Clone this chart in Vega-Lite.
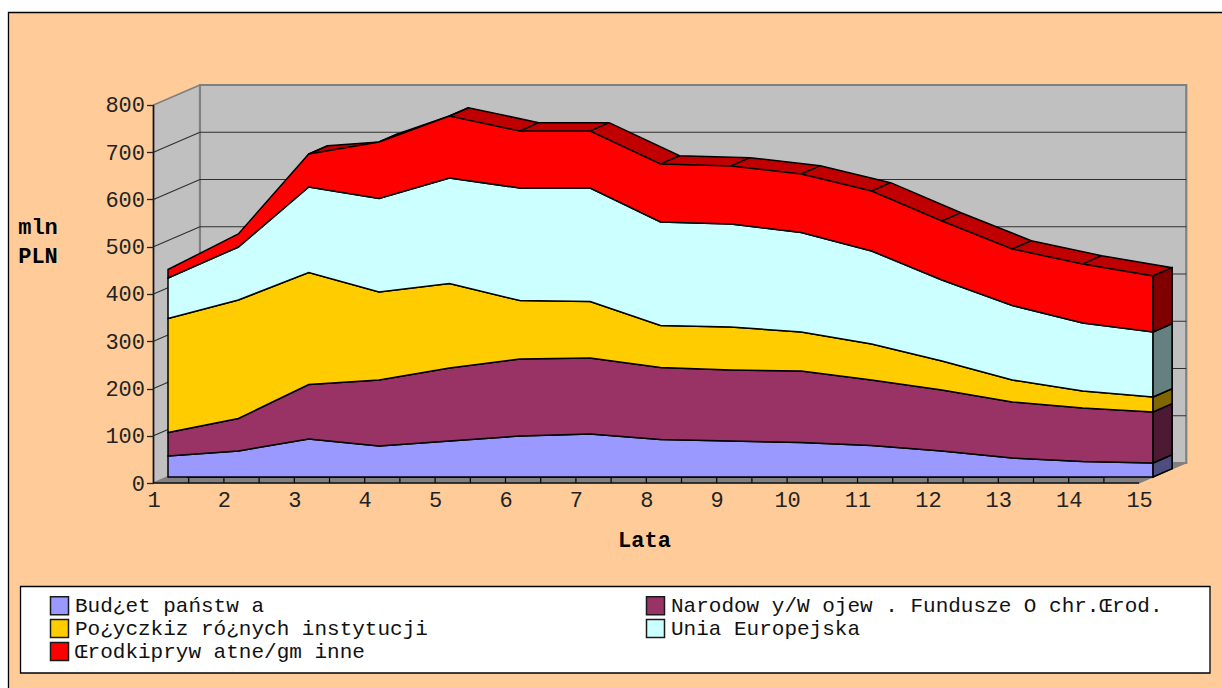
{"$schema":"https://vega.github.io/schema/vega-lite/v6.json","width":1222,"height":688,"autosize":"none","padding":0,"background":"white","config":{"view":{"stroke":null},"legend":{"labelFont":"Liberation Mono","labelFontSize":21}},"datasets":{"frame":[{"x":-1.06,"x2":18,"y":995.8,"y2":-480}],"legendbox":[{"x":-0.889,"x2":16.007,"y":-219,"y2":-402.1}],"backwall":[{"x":1.66,"x2":15.67,"y":842.3,"y2":42.3}],"leftwall":[{"x":1,"y":800,"y2":0},{"x":1.66,"y":842.3,"y2":42.3}],"floor":[{"x":1,"y":0,"y2":0},{"x":1.66,"y":42.3,"y2":0},{"x":15,"y":42.3,"y2":0},{"x":15.67,"y":42.3,"y2":42.3}],"grid":[{"x":1.66,"x2":15.67,"y":142.3,"y2":142.3},{"x":1.66,"x2":15.67,"y":242.3,"y2":242.3},{"x":1.66,"x2":15.67,"y":342.3,"y2":342.3},{"x":1.66,"x2":15.67,"y":442.3,"y2":442.3},{"x":1.66,"x2":15.67,"y":542.3,"y2":542.3},{"x":1.66,"x2":15.67,"y":642.3,"y2":642.3},{"x":1.66,"x2":15.67,"y":742.3,"y2":742.3},{"x":1,"x2":1.66,"y":100,"y2":142.3},{"x":1,"x2":1.66,"y":200,"y2":242.3},{"x":1,"x2":1.66,"y":300,"y2":342.3},{"x":1,"x2":1.66,"y":400,"y2":442.3},{"x":1,"x2":1.66,"y":500,"y2":542.3},{"x":1,"x2":1.66,"y":600,"y2":642.3},{"x":1,"x2":1.66,"y":700,"y2":742.3}],"axislines":[{"x":1,"x2":15,"y":0,"y2":0},{"x":1,"x2":1,"y":0,"y2":800}],"ticks":[{"x":2,"y":0,"y2":14.8},{"x":3,"y":0,"y2":14.8},{"x":4,"y":0,"y2":14.8},{"x":5,"y":0,"y2":14.8},{"x":6,"y":0,"y2":14.8},{"x":7,"y":0,"y2":14.8},{"x":8,"y":0,"y2":14.8},{"x":9,"y":0,"y2":14.8},{"x":10,"y":0,"y2":14.8},{"x":11,"y":0,"y2":14.8},{"x":12,"y":0,"y2":14.8},{"x":13,"y":0,"y2":14.8},{"x":14,"y":0,"y2":14.8},{"x":1.5,"y":0,"y2":10.6},{"x":2.5,"y":0,"y2":10.6},{"x":3.5,"y":0,"y2":10.6},{"x":4.5,"y":0,"y2":10.6},{"x":5.5,"y":0,"y2":10.6},{"x":6.5,"y":0,"y2":10.6},{"x":7.5,"y":0,"y2":10.6},{"x":8.5,"y":0,"y2":10.6},{"x":9.5,"y":0,"y2":10.6},{"x":10.5,"y":0,"y2":10.6},{"x":11.5,"y":0,"y2":10.6},{"x":12.5,"y":0,"y2":10.6},{"x":13.5,"y":0,"y2":10.6},{"x":14.5,"y":0,"y2":10.6}],"ridge":[{"x":1.27,"y":456.8,"y2":0},{"x":2.27,"y":531.9,"y2":0},{"x":3,"y":683.6,"y2":0},{"x":3.27,"y":701.2,"y2":0},{"x":4,"y":709,"y2":0},{"x":4.27,"y":726.6,"y2":0},{"x":5,"y":764,"y2":0},{"x":5.27,"y":781.6,"y2":0},{"x":6.27,"y":749.9,"y2":0},{"x":7.27,"y":749.9,"y2":0},{"x":8.27,"y":680,"y2":0},{"x":9.27,"y":675.8,"y2":0},{"x":10.27,"y":658.9,"y2":0},{"x":11.27,"y":622.9,"y2":0},{"x":12.27,"y":559.4,"y2":0},{"x":13.27,"y":500.1,"y2":0},{"x":14.27,"y":468.4,"y2":0},{"x":15.27,"y":443,"y2":17.6}],"ridgeLinks":[{"x":3,"x2":3.27,"y":683.6,"y2":701.2},{"x":4,"x2":4.27,"y":709,"y2":726.6},{"x":5,"x2":5.27,"y":764,"y2":781.6},{"x":6,"x2":6.27,"y":732.3,"y2":749.9},{"x":7,"x2":7.27,"y":732.3,"y2":749.9},{"x":8,"x2":8.27,"y":662.4,"y2":680},{"x":9,"x2":9.27,"y":658.2,"y2":675.8},{"x":10,"x2":10.27,"y":641.3,"y2":658.9},{"x":11,"x2":11.27,"y":605.3,"y2":622.9},{"x":12,"x2":12.27,"y":541.8,"y2":559.4},{"x":13,"x2":13.27,"y":482.5,"y2":500.1},{"x":14,"x2":14.27,"y":450.8,"y2":468.4},{"x":15,"x2":15.27,"y":425.4,"y2":443}],"endface":[{"s":"a","x":15,"y":29.6,"y2":0},{"s":"a","x":15.27,"y":47.2,"y2":17.6},{"s":"b","x":15,"y":137.6,"y2":29.6},{"s":"b","x":15.27,"y":155.2,"y2":47.2},{"s":"c","x":15,"y":169.3,"y2":137.6},{"s":"c","x":15.27,"y":186.9,"y2":155.2},{"s":"d","x":15,"y":306.9,"y2":169.3},{"s":"d","x":15.27,"y":324.5,"y2":186.9},{"s":"e","x":15,"y":425.4,"y2":306.9},{"s":"e","x":15.27,"y":443,"y2":324.5}],"flows":[{"x":1,"k":1,"s":"Bud¿et państw a","y":44.4},{"x":2,"k":1,"s":"Bud¿et państw a","y":55},{"x":3,"k":1,"s":"Bud¿et państw a","y":80.4},{"x":4,"k":1,"s":"Bud¿et państw a","y":65.6},{"x":5,"k":1,"s":"Bud¿et państw a","y":76.2},{"x":6,"k":1,"s":"Bud¿et państw a","y":86.8},{"x":7,"k":1,"s":"Bud¿et państw a","y":91},{"x":8,"k":1,"s":"Bud¿et państw a","y":79.4},{"x":9,"k":1,"s":"Bud¿et państw a","y":76.2},{"x":10,"k":1,"s":"Bud¿et państw a","y":73},{"x":11,"k":1,"s":"Bud¿et państw a","y":66.7},{"x":12,"k":1,"s":"Bud¿et państw a","y":55},{"x":13,"k":1,"s":"Bud¿et państw a","y":40.2},{"x":14,"k":1,"s":"Bud¿et państw a","y":32.8},{"x":15,"k":1,"s":"Bud¿et państw a","y":29.6},{"x":1,"k":2,"s":"Narodow y/W ojew . Fundusze O chr.Œrod.","y":49.8},{"x":2,"k":2,"s":"Narodow y/W ojew . Fundusze O chr.Œrod.","y":68.8},{"x":3,"k":2,"s":"Narodow y/W ojew . Fundusze O chr.Œrod.","y":115.4},{"x":4,"k":2,"s":"Narodow y/W ojew . Fundusze O chr.Œrod.","y":139.7},{"x":5,"k":2,"s":"Narodow y/W ojew . Fundusze O chr.Œrod.","y":154.5},{"x":6,"k":2,"s":"Narodow y/W ojew . Fundusze O chr.Œrod.","y":162.9},{"x":7,"k":2,"s":"Narodow y/W ojew . Fundusze O chr.Œrod.","y":160.9},{"x":8,"k":2,"s":"Narodow y/W ojew . Fundusze O chr.Œrod.","y":152.3},{"x":9,"k":2,"s":"Narodow y/W ojew . Fundusze O chr.Œrod.","y":150.3},{"x":10,"k":2,"s":"Narodow y/W ojew . Fundusze O chr.Œrod.","y":151.3},{"x":11,"k":2,"s":"Narodow y/W ojew . Fundusze O chr.Œrod.","y":138.6},{"x":12,"k":2,"s":"Narodow y/W ojew . Fundusze O chr.Œrod.","y":129.1},{"x":13,"k":2,"s":"Narodow y/W ojew . Fundusze O chr.Œrod.","y":118.5},{"x":14,"k":2,"s":"Narodow y/W ojew . Fundusze O chr.Œrod.","y":113.2},{"x":15,"k":2,"s":"Narodow y/W ojew . Fundusze O chr.Œrod.","y":108},{"x":1,"k":3,"s":"Po¿yczkiz ró¿nych instytucji","y":241.2},{"x":2,"k":3,"s":"Po¿yczkiz ró¿nych instytucji","y":250.8},{"x":3,"k":3,"s":"Po¿yczkiz ró¿nych instytucji","y":237},{"x":4,"k":3,"s":"Po¿yczkiz ró¿nych instytucji","y":186.2},{"x":5,"k":3,"s":"Po¿yczkiz ró¿nych instytucji","y":178.8},{"x":6,"k":3,"s":"Po¿yczkiz ró¿nych instytucji","y":123.8},{"x":7,"k":3,"s":"Po¿yczkiz ró¿nych instytucji","y":119.5},{"x":8,"k":3,"s":"Po¿yczkiz ró¿nych instytucji","y":88.9},{"x":9,"k":3,"s":"Po¿yczkiz ró¿nych instytucji","y":91},{"x":10,"k":3,"s":"Po¿yczkiz ró¿nych instytucji","y":82.6},{"x":11,"k":3,"s":"Po¿yczkiz ró¿nych instytucji","y":76.2},{"x":12,"k":3,"s":"Po¿yczkiz ró¿nych instytucji","y":61.4},{"x":13,"k":3,"s":"Po¿yczkiz ró¿nych instytucji","y":46.6},{"x":14,"k":3,"s":"Po¿yczkiz ró¿nych instytucji","y":36},{"x":15,"k":3,"s":"Po¿yczkiz ró¿nych instytucji","y":31.7},{"x":1,"k":4,"s":"Unia Europejska","y":85.8},{"x":2,"k":4,"s":"Unia Europejska","y":112.2},{"x":3,"k":4,"s":"Unia Europejska","y":181},{"x":4,"k":4,"s":"Unia Europejska","y":197.9},{"x":5,"k":4,"s":"Unia Europejska","y":223.3},{"x":6,"k":4,"s":"Unia Europejska","y":238.1},{"x":7,"k":4,"s":"Unia Europejska","y":240.2},{"x":8,"k":4,"s":"Unia Europejska","y":219.1},{"x":9,"k":4,"s":"Unia Europejska","y":217.9},{"x":10,"k":4,"s":"Unia Europejska","y":210.6},{"x":11,"k":4,"s":"Unia Europejska","y":196.8},{"x":12,"k":4,"s":"Unia Europejska","y":171.4},{"x":13,"k":4,"s":"Unia Europejska","y":157.7},{"x":14,"k":4,"s":"Unia Europejska","y":143.9},{"x":15,"k":4,"s":"Unia Europejska","y":137.6},{"x":1,"k":5,"s":"Œrodkipryw atne/gm inne","y":18},{"x":2,"k":5,"s":"Œrodkipryw atne/gm inne","y":27.5},{"x":3,"k":5,"s":"Œrodkipryw atne/gm inne","y":69.8},{"x":4,"k":5,"s":"Œrodkipryw atne/gm inne","y":119.6},{"x":5,"k":5,"s":"Œrodkipryw atne/gm inne","y":131.2},{"x":6,"k":5,"s":"Œrodkipryw atne/gm inne","y":120.7},{"x":7,"k":5,"s":"Œrodkipryw atne/gm inne","y":120.7},{"x":8,"k":5,"s":"Œrodkipryw atne/gm inne","y":122.7},{"x":9,"k":5,"s":"Œrodkipryw atne/gm inne","y":122.8},{"x":10,"k":5,"s":"Œrodkipryw atne/gm inne","y":123.8},{"x":11,"k":5,"s":"Œrodkipryw atne/gm inne","y":127},{"x":12,"k":5,"s":"Œrodkipryw atne/gm inne","y":124.9},{"x":13,"k":5,"s":"Œrodkipryw atne/gm inne","y":119.5},{"x":14,"k":5,"s":"Œrodkipryw atne/gm inne","y":124.9},{"x":15,"k":5,"s":"Œrodkipryw atne/gm inne","y":118.5}]},"resolve":{"scale":{"x":"independent","y":"independent","color":"independent"}},"layer":[{"encoding":{"x":{"field":"x","type":"quantitative","scale":{"domain":[-1.1804,16.1776],"nice":false,"zero":false},"axis":{"values":[1,2,3,4,5,6,7,8,9,10,11,12,13,14,15],"format":"d","ticks":false,"domain":false,"grid":false,"labelFont":"Liberation Mono","labelFontSize":22,"labelColor":"#222222","labelPadding":6,"labelOverlap":false,"labelFlush":false,"offset":-205,"title":"Lata","titleFont":"Liberation Mono","titleFontWeight":"bold","titleFontSize":22,"titleColor":"#000000","titleX":644,"titleY":56,"titleBaseline":"middle","zindex":1}},"y":{"field":"y","type":"quantitative","scale":{"domain":[-433.86,1022.22],"nice":false,"zero":false},"axis":{"values":[0,100,200,300,400,500,600,700,800],"format":"d","domain":false,"grid":false,"tickSize":7,"tickColor":"#222222","tickWidth":1.3,"labelFont":"Liberation Mono","labelFontSize":22,"labelColor":"#222222","labelPadding":2,"labelOverlap":false,"labelFlush":false,"offset":-153.5,"title":["mln","PLN"],"titleFont":"Liberation Mono","titleFontWeight":"bold","titleFontSize":22,"titleColor":"#000000","titleAngle":0,"titleAlign":"center","titleBaseline":"middle","titleLineHeight":29,"titleX":-116,"titleY":226,"zindex":1}}},"layer":[{"data":{"name":"frame"},"mark":{"type":"rect","fill":"#FFCC99","stroke":"#000000","strokeWidth":1.3},"encoding":{"x2":{"field":"x2"},"y2":{"field":"y2"}}},{"data":{"name":"legendbox"},"mark":{"type":"rect","fill":"#FFFFFF","stroke":"#000000","strokeWidth":1.3},"encoding":{"x2":{"field":"x2"},"y2":{"field":"y2"}}},{"data":{"name":"floor"},"mark":{"type":"area","orient":"vertical","fill":"#808080","stroke":"#808080","strokeWidth":1},"encoding":{"y2":{"field":"y2"}}},{"data":{"name":"leftwall"},"mark":{"type":"area","orient":"vertical","fill":"#C0C0C0","stroke":"#808080","strokeWidth":1.5},"encoding":{"y2":{"field":"y2"}}},{"data":{"name":"backwall"},"mark":{"type":"rect","fill":"#C0C0C0","stroke":"#808080","strokeWidth":2.2},"encoding":{"x2":{"field":"x2"},"y2":{"field":"y2"}}},{"data":{"name":"grid"},"mark":{"type":"rule","stroke":"#303030","strokeWidth":1.2},"encoding":{"x2":{"field":"x2"},"y2":{"field":"y2"}}},{"data":{"name":"ticks"},"mark":{"type":"rule","stroke":"#000000","strokeWidth":1.2},"encoding":{"y2":{"field":"y2"}}},{"data":{"name":"axislines"},"mark":{"type":"rule","stroke":"#111111","strokeWidth":1.6},"encoding":{"x2":{"field":"x2"},"y2":{"field":"y2"}}}]},{"resolve":{"scale":{"color":"independent"}},"encoding":{"x":{"field":"x","type":"quantitative","axis":null,"scale":{"domain":[-1.3877,15.98],"nice":false,"zero":false}},"y":{"field":"y","type":"quantitative","axis":null,"stack":null,"scale":{"domain":[-446.56,1009.52],"nice":false,"zero":false}}},"layer":[{"data":{"name":"ridge"},"mark":{"type":"area","orient":"vertical","fill":"#C00000","stroke":"#000000","strokeWidth":1.5},"encoding":{"y2":{"field":"y2"}}},{"data":{"name":"ridgeLinks"},"mark":{"type":"rule","stroke":"#000000","strokeWidth":1.5},"encoding":{"x2":{"field":"x2"},"y2":{"field":"y2"}}},{"data":{"name":"flows"},"mark":{"type":"area","orient":"vertical","stroke":"#000000","strokeWidth":1.5,"opacity":1},"encoding":{"y":{"field":"y","type":"quantitative","axis":null,"stack":"zero","scale":{"domain":[-446.56,1009.52],"nice":false,"zero":false}},"order":{"field":"k","type":"quantitative"},"color":{"field":"s","type":"nominal","scale":{"domain":["Bud¿et państw a","Narodow y/W ojew . Fundusze O chr.Œrod.","Po¿yczkiz ró¿nych instytucji","Unia Europejska","Œrodkipryw atne/gm inne"],"range":["#9999FF","#993366","#FFCC00","#CCFFFF","#FF0000"]},"legend":{"title":null,"orient":"none","legendX":49,"legendY":595,"direction":"horizontal","columns":2,"symbolType":"square","symbolSize":324,"symbolStrokeColor":"#1a1a1a","symbolStrokeWidth":1.5,"symbolOpacity":1,"labelFont":"Liberation Mono","labelFontSize":21,"labelColor":"#111111","labelLimit":700,"labelOffset":5,"rowPadding":-2,"columnPadding":215}}}},{"data":{"name":"endface"},"mark":{"type":"area","orient":"vertical","stroke":"#000000","strokeWidth":1.5},"encoding":{"y2":{"field":"y2"},"color":{"field":"s","type":"nominal","legend":null,"scale":{"domain":["a","b","c","d","e"],"range":["#4D4D80","#4C1A33","#806600","#668080","#800000"]}}}}]}]}
